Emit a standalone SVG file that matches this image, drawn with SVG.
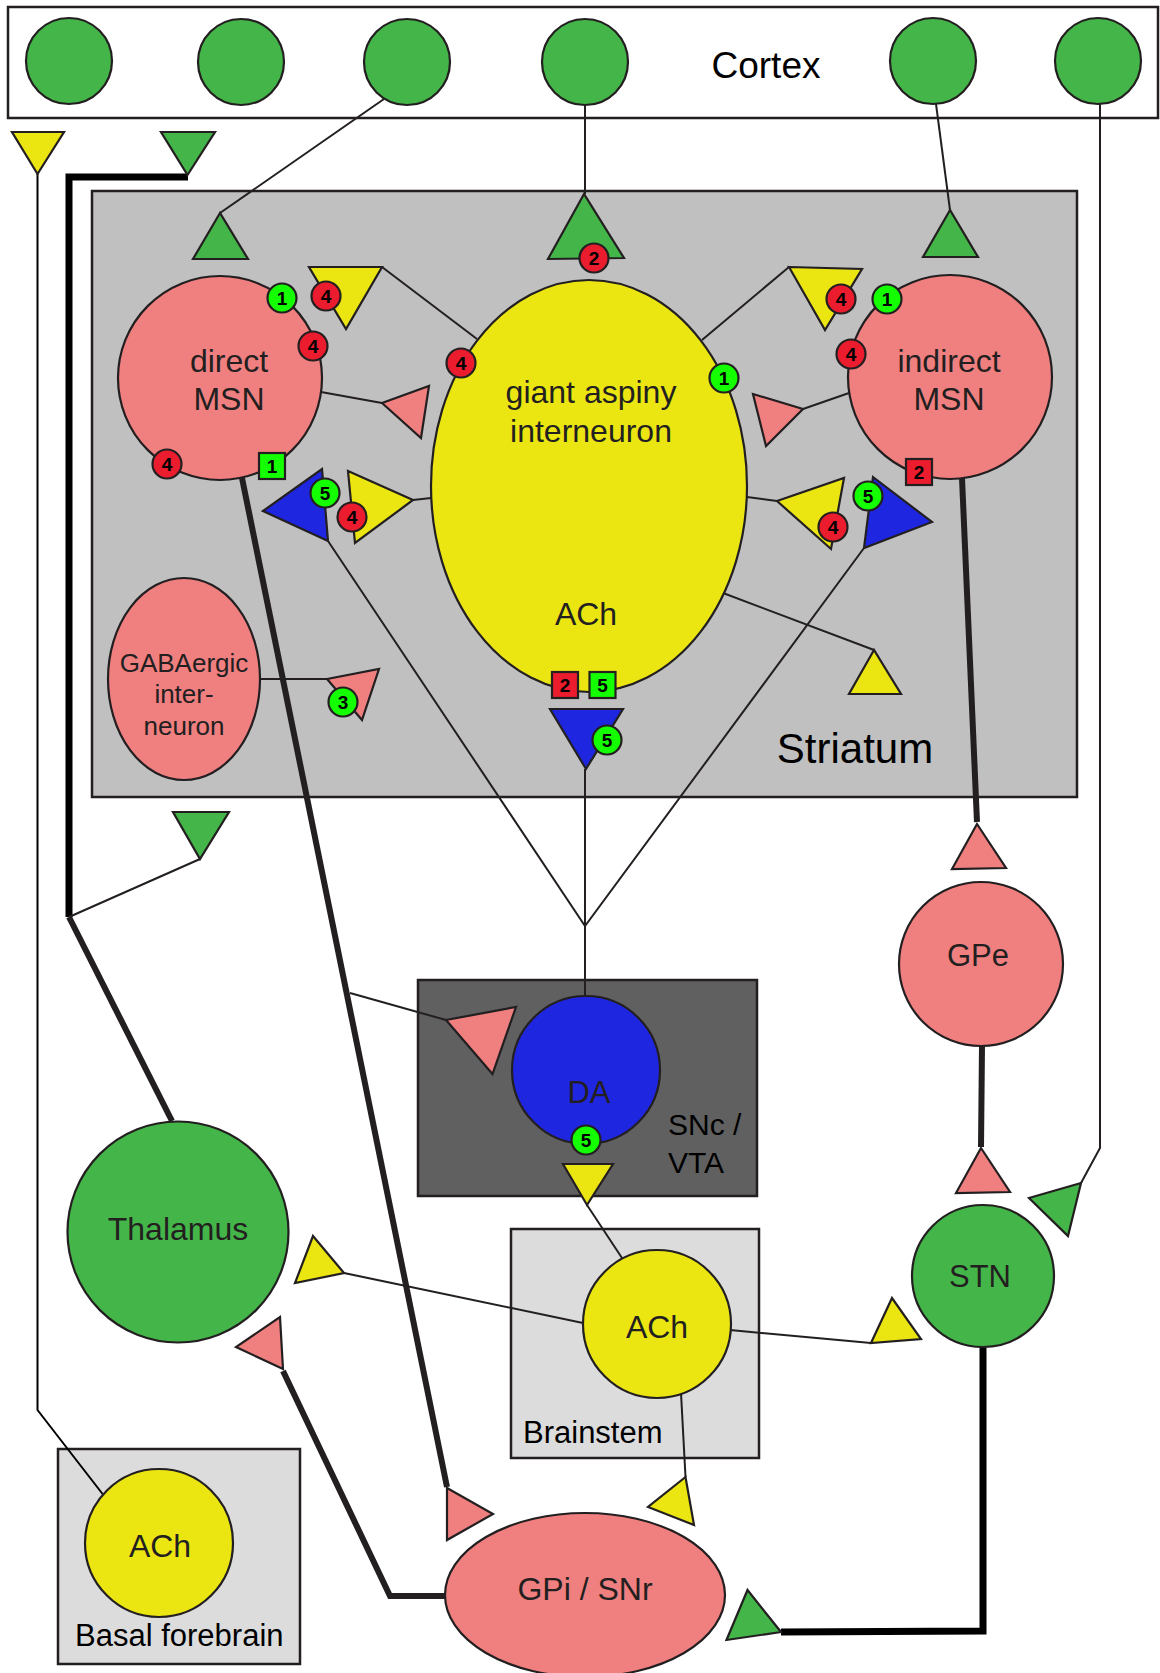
<svg xmlns="http://www.w3.org/2000/svg" width="1160" height="1673" viewBox="0 0 1160 1673">
<style>
.ln{stroke:#231f20;stroke-width:2;fill:none;stroke-linejoin:miter}
.thk{stroke:#231f20;stroke-width:6;fill:none}
.blk{stroke:#000;stroke-width:7;fill:none}
.sh{stroke:#231f20;stroke-width:2.2}
.g{fill:#44b549}.p{fill:#f08080}.y{fill:#ebe611}.b{fill:#1f26e0}.bg{fill:#14ff00}.r{fill:#ea1c2d}
.box{stroke:#231f20;stroke-width:2.5}
.lbl{font-family:"Liberation Sans",Arial,sans-serif;fill:#231f20;text-anchor:middle}
.reg{font-family:"Liberation Sans",Arial,sans-serif;fill:#000}
.bt{font-family:"Liberation Sans",Arial,sans-serif;font-weight:bold;font-size:19px;fill:#000;text-anchor:middle}
</style>
<rect width="1160" height="1673" fill="#fff"/>
<g id="regions">
<rect id="cortex" class="box" x="8" y="7" width="1150" height="111" fill="#fff"/>
<text class="reg" x="766" y="78" font-size="37" text-anchor="middle">Cortex</text>
<rect id="striatum" class="box" x="92" y="191" width="985" height="606" fill="#c0c0c0"/>
<text class="reg" x="855" y="763" font-size="42" text-anchor="middle">Striatum</text>
<rect id="snc-vta" class="box" x="418" y="980" width="339" height="216" fill="#606060"/>
<text class="reg" x="668" y="1135" font-size="30">SNc /</text>
<text class="reg" x="668" y="1173" font-size="30">VTA</text>
<rect id="brainstem" class="box" x="511" y="1229" width="248" height="229" fill="#dcdcdc"/>
<text class="reg" x="523" y="1443" font-size="31">Brainstem</text>
<rect id="basal-forebrain" class="box" x="58" y="1449" width="242" height="215" fill="#dcdcdc"/>
<text class="reg" x="75" y="1646" font-size="31">Basal forebrain</text>
</g>
<g id="connectors">
<line class="ln" x1="384" y1="99" x2="220" y2="213"/>
<line class="ln" x1="585" y1="105" x2="585" y2="194"/>
<line class="ln" x1="936" y1="104" x2="950" y2="210"/>
<polyline class="ln" points="1100,104 1100,1148 1081,1183"/>
<polyline class="ln" style="stroke:#000" points="37.5,174 37.5,1410 102.6,1494"/>
<polyline class="blk" points="188,177 69,177 69,917"/>
<line class="thk" x1="69" y1="917" x2="172" y2="1121"/>
<line class="ln" x1="69" y1="917" x2="200" y2="859"/>
<line class="thk" x1="242" y1="478" x2="447" y2="1487"/>
<line class="ln" x1="350" y1="993" x2="446" y2="1020"/>
<polyline class="thk" points="445,1596 390,1596 283,1371"/>
<polyline class="blk" points="983,1347 983,1631 781,1632"/>
<line class="thk" x1="982" y1="1046" x2="981" y2="1147"/>
<line class="thk" x1="962" y1="478" x2="977" y2="822"/>
<line class="ln" x1="583" y1="1323" x2="344" y2="1273"/>
<line class="ln" x1="730" y1="1330" x2="871" y2="1343"/>
<line class="ln" x1="681" y1="1393" x2="685.5" y2="1477"/>
<line class="ln" x1="587" y1="1205" x2="622" y2="1258"/>
<polyline class="ln" points="328,541 585,926 864,548"/>
<line class="ln" x1="585" y1="769" x2="585" y2="996"/>
<line class="ln" x1="321" y1="392" x2="382" y2="403"/>
<line class="ln" x1="382" y1="267" x2="477" y2="339"/>
<line class="ln" x1="431" y1="498" x2="413" y2="500"/>
<line class="ln" x1="260" y1="679" x2="327" y2="679"/>
<line class="ln" x1="702" y1="340" x2="789" y2="267"/>
<line class="ln" x1="849" y1="393" x2="803" y2="409"/>
<line class="ln" x1="747" y1="497" x2="777" y2="501"/>
<line class="ln" x1="723" y1="593" x2="874" y2="650"/>
<g id="terminals">
<polygon class="sh g" points="220,213 193,259 248,259"/>
<polygon class="sh g" points="584,194 548,259 624,258"/>
<polygon class="sh g" points="950,210 923,257 978,257"/>
<polygon class="sh y" points="12,132 64,132 37.5,174"/>
<polygon class="sh g" points="161,132 215,132 187.5,175"/>
<polygon class="sh g" points="173,812 229,812 200,859"/>
<polygon class="sh y" points="309,267 382,267 346,329"/>
<polygon class="sh p" points="382,403 429,386 421,438"/>
<polygon class="sh b" points="263,511 322,469 328,541"/>
<polygon class="sh y" points="348,471 413,500 355,543"/>
<polygon class="sh p" points="327,679 379,669 362,720"/>
<polygon class="sh b" points="550,709 623,709 586,769"/>
<polygon class="sh y" points="874,650 849,694 901,694"/>
<polygon class="sh y" points="789,267 862,269 825,330"/>
<polygon class="sh p" points="753,394 803,409 766,446"/>
<polygon class="sh y" points="777,501 844,478 831,549"/>
<polygon class="sh b" points="873,477 932,522 864,548"/>
<polygon class="sh p" points="977,824 952,869 1006,868"/>
<polygon class="sh p" points="981,1148 956,1193 1010,1192"/>
<polygon class="sh g" points="1081,1183 1029,1198 1068,1236"/>
<polygon class="sh p" points="446,1020 516,1007 492.5,1074"/>
<polygon class="sh y" points="563,1164 613,1164 587,1205"/>
<polygon class="sh y" points="313,1236 344,1273 295,1283"/>
<polygon class="sh p" points="280,1317 283,1369 236,1347"/>
<polygon class="sh y" points="871,1343 892,1298 921,1339"/>
<polygon class="sh y" points="685.5,1477 648,1507 694,1525"/>
<polygon class="sh p" points="447,1488 493,1514 447,1540"/>
<polygon class="sh g" points="747.5,1590 781,1632 726.5,1640"/>
</g>
</g>
<g id="cortex-neurons">
<circle class="sh g" cx="69" cy="61" r="43"/>
<circle class="sh g" cx="241" cy="62" r="43"/>
<circle class="sh g" cx="407" cy="62" r="43"/>
<circle class="sh g" cx="585" cy="62" r="43"/>
<circle class="sh g" cx="933" cy="61" r="43"/>
<circle class="sh g" cx="1098" cy="61" r="43"/>
</g>
<g id="direct-msn">
<circle class="sh p" cx="220" cy="378" r="102"/>
<text class="lbl" x="229" y="372" font-size="32">direct</text>
<text class="lbl" x="229" y="410" font-size="32">MSN</text>
</g>
<g id="indirect-msn">
<circle class="sh p" cx="950" cy="377" r="102"/>
<text class="lbl" x="949" y="372" font-size="32">indirect</text>
<text class="lbl" x="949" y="410" font-size="32">MSN</text>
</g>
<g id="giant-aspiny">
<ellipse class="sh y" cx="589" cy="486" rx="158" ry="206"/>
<text class="lbl" x="591" y="403" font-size="32">giant aspiny</text>
<text class="lbl" x="591" y="442" font-size="32">interneuron</text>
<text class="lbl" x="586" y="625" font-size="32">ACh</text>
</g>
<g id="gaba-interneuron">
<ellipse class="sh p" cx="184" cy="679" rx="76" ry="101"/>
<text class="lbl" x="184" y="672" font-size="26">GABAergic</text>
<text class="lbl" x="184" y="703" font-size="26">inter-</text>
<text class="lbl" x="184" y="735" font-size="26">neuron</text>
</g>
<g id="da">
<circle class="sh b" cx="586" cy="1070" r="74"/>
<text class="lbl" x="589" y="1103" font-size="31">DA</text>
</g>
<g id="gpe">
<circle class="sh p" cx="981" cy="964" r="82"/>
<text class="lbl" x="978" y="966" font-size="31">GPe</text>
</g>
<g id="thalamus">
<circle class="sh g" cx="178" cy="1232" r="110.5"/>
<text class="lbl" x="178" y="1240" font-size="32">Thalamus</text>
</g>
<g id="stn">
<circle class="sh g" cx="983" cy="1276" r="71"/>
<text class="lbl" x="980" y="1287" font-size="31">STN</text>
</g>
<g id="brainstem-ach">
<circle class="sh y" cx="657" cy="1324" r="74"/>
<text class="lbl" x="657" y="1338" font-size="32">ACh</text>
</g>
<g id="basal-ach">
<circle class="sh y" cx="159" cy="1543" r="74"/>
<text class="lbl" x="160" y="1557" font-size="32">ACh</text>
</g>
<g id="gpi-snr">
<ellipse class="sh p" cx="585" cy="1595" rx="140" ry="82"/>
<text class="lbl" x="585" y="1600" font-size="32">GPi / SNr</text>
</g>
<g id="badges">
<circle class="sh bg" cx="282" cy="298" r="14.5"/><text class="bt" x="282" y="305">1</text>
<circle class="sh bg" cx="887" cy="299" r="14.5"/><text class="bt" x="887" y="306">1</text>
<circle class="sh bg" cx="724" cy="378" r="14.5"/><text class="bt" x="724" y="385">1</text>
<circle class="sh r" cx="313" cy="346" r="14.5"/><text class="bt" x="313" y="353">4</text>
<circle class="sh r" cx="167" cy="464" r="14.5"/><text class="bt" x="167" y="471">4</text>
<circle class="sh r" cx="326" cy="296" r="14.5"/><text class="bt" x="326" y="303">4</text>
<circle class="sh r" cx="461" cy="363" r="14.5"/><text class="bt" x="461" y="370">4</text>
<circle class="sh r" cx="352" cy="517" r="14.5"/><text class="bt" x="352" y="524">4</text>
<circle class="sh r" cx="841" cy="299" r="14.5"/><text class="bt" x="841" y="306">4</text>
<circle class="sh r" cx="851" cy="354" r="14.5"/><text class="bt" x="851" y="361">4</text>
<circle class="sh r" cx="833" cy="527" r="14.5"/><text class="bt" x="833" y="534">4</text>
<circle class="sh r" cx="594" cy="258" r="14.5"/><text class="bt" x="594" y="265">2</text>
<circle class="sh bg" cx="325" cy="493" r="14.5"/><text class="bt" x="325" y="500">5</text>
<circle class="sh bg" cx="607" cy="740" r="14.5"/><text class="bt" x="607" y="747">5</text>
<circle class="sh bg" cx="868" cy="496" r="14.5"/><text class="bt" x="868" y="503">5</text>
<circle class="sh bg" cx="586" cy="1140" r="14.5"/><text class="bt" x="586" y="1147">5</text>
<circle class="sh bg" cx="343" cy="702" r="14.5"/><text class="bt" x="343" y="709">3</text>
<rect class="sh bg" x="259" y="453" width="26" height="26"/><text class="bt" x="272" y="473">1</text>
<rect class="sh r" x="906" y="459" width="26" height="26"/><text class="bt" x="919" y="479">2</text>
<rect class="sh r" x="552" y="672" width="26" height="26"/><text class="bt" x="565" y="692">2</text>
<rect class="sh bg" x="589.5" y="672" width="26" height="26"/><text class="bt" x="602.5" y="692">5</text>
</g>
</svg>
